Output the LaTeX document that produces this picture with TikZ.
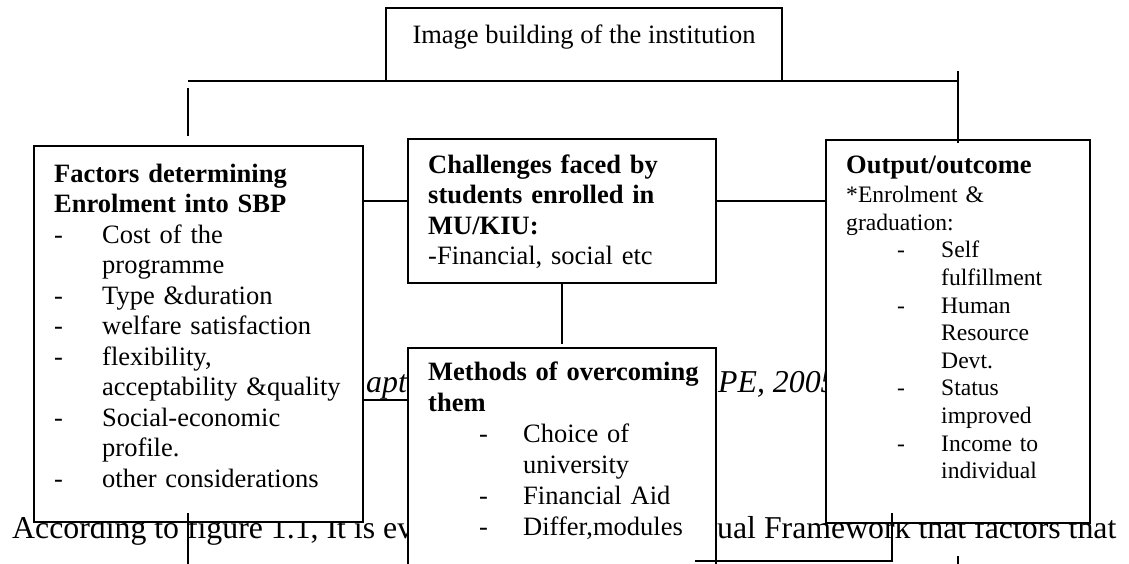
\documentclass[tikz,border=0pt]{standalone}
\usepackage{fontspec}
\setmainfont{Liberation Serif}
\usetikzlibrary{positioning}

% list helpers for the boxes
\newcommand{\dashitem}{\makebox[48pt][l]{-}}
\newcommand{\contline}{\hspace*{48pt}}
\newcommand{\subdash}{\hspace*{51pt}\makebox[44pt][l]{-}}
\newcommand{\subcont}{\hspace*{95pt}}

\begin{document}
\begin{tikzpicture}[x=1pt, y=-1pt,
    box/.style={rectangle, draw, fill=white, line width=1.8pt, inner sep=0pt,
                outer sep=0pt, anchor=north west},
    txt/.style={align=left, text width=320pt, inner sep=0pt, anchor=base west,
                font=\fontsize{26.5}{30.5}\selectfont},
    sml/.style={txt, font=\fontsize{23.6}{27.6}\selectfont},
    body/.style={inner sep=0pt, anchor=base west, font=\fontsize{31.8}{36}\selectfont},
    link/.style={line width=1.8pt}]

\clip (0,0) rectangle (1129,563);
\fill[white] (0,0) rectangle (1129,563);

% page text lying under the boxes
\node[body] (para1) at (12,538) {According to figure 1.1, It is ev};
\node[body] (para2) at (717,538) {ual Framework that factors that};
\node[body, font=\fontsize{31.8}{36}\selectfont\itshape] (src1) at (366,392) {apte};
\node[body, font=\fontsize{31.8}{36}\selectfont\itshape] (src2) at (718,392) {PE, 2005};

% boxes
\node[box, minimum width=396, minimum height=73] (image) at (386,8) {};
\node[box, minimum width=329, minimum height=376] (fact) at (34,146) {};
\node[box, minimum width=308, minimum height=144] (chal) at (408,139) {};
\node[box, minimum width=308, minimum height=240] (meth) at (408,348) {};
\node[box, minimum width=264, minimum height=383] (outc) at (826,140) {};

\node[txt, text width=, anchor=base] (imagetxt) at (584,43)
    {Image building of the institution};

\node[txt] (facttxt) at (54,182) {%
    \textbf{Factors determining}\\
    \textbf{Enrolment into SBP}\\
    \dashitem Cost of the\\
    \contline programme\\
    \dashitem Type \&duration\\
    \dashitem welfare satisfaction\\
    \dashitem flexibility,\\
    \contline acceptability \&quality\\
    \dashitem Social-economic\\
    \contline profile.\\
    \dashitem other considerations};

\node[txt] (chaltxt) at (428,173) {%
    \textbf{Challenges faced by}\\
    \textbf{students enrolled in}\\
    \textbf{MU/KIU:}\\
    -Financial, social etc};

\node[txt, font=\fontsize{26.5}{31}\selectfont] (methtxt) at (428,380) {%
    \textbf{Methods of overcoming}\\
    \textbf{them}\\
    \subdash Choice of\\
    \subcont university\\
    \subdash Financial Aid\\
    \subdash Differ,modules};

\node[txt] (outctxt) at (846,173) {\textbf{Output/outcome}};
\node[sml] (outclist) at (846,202.7) {%
    *Enrolment \&\\
    graduation:\\
    \subdash Self\\
    \subcont fulfillment\\
    \subdash Human\\
    \subcont Resource\\
    \subcont Devt.\\
    \subdash Status\\
    \subcont improved\\
    \subdash Income to\\
    \subcont individual};

% connectors
\coordinate (barL) at (188,81);
\coordinate (barR) at (958,81);
\coordinate (midrow) at (0,200.7);
\coordinate (uline) at (0,400);
\draw[link] (barL) -- (barR);
\draw[link] ([yshift=-7pt]barL) -- ([yshift=10pt]barL |- fact.north);
\draw[link] ([yshift=10pt]barR) -- ([yshift=-3pt]barR |- outc.north);
\draw[link] (fact.east |- midrow) -- (chal.west |- midrow);
\draw[link] (chal.east |- midrow) -- (outc.west |- midrow);
\draw[link] (chal.south) -- ([yshift=4pt]meth.north);
\draw[line width=1.4pt] (fact.east |- uline) -- (meth.west |- uline);

% lines running on below the page break
\draw[link] (188,513) -- (188,570);
\draw[link] (892,513) -- (892,561) -- (695,561);
\draw[link] (958,556) -- (958,570);
\end{tikzpicture}
\end{document}
